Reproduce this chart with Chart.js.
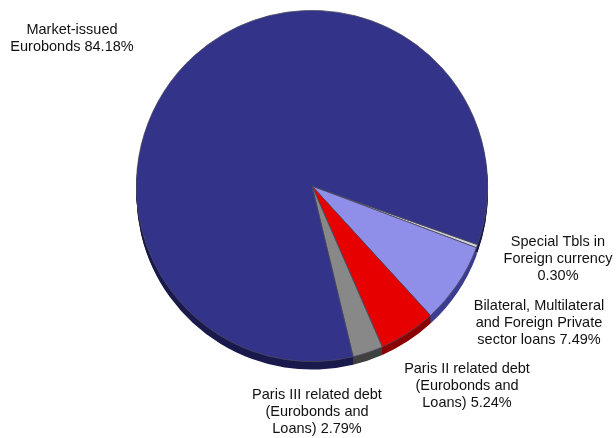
<!DOCTYPE html>
<html>
<head>
<meta charset="utf-8">
<script src="https://cdn.jsdelivr.net/npm/chart.js@4/dist/chart.umd.min.js"></script>
<style>
  html, body { margin: 0; padding: 0; background: #ffffff; }
  #wrap { width: 616px; height: 438px; position: relative; }
</style>
</head>
<body>
<div id="wrap"><canvas id="c" width="616" height="438"></canvas></div>
<script>
// ---- data ----
const categories = [
  'Special Tbls in Foreign currency',
  'Bilateral, Multilateral and Foreign Private sector loans',
  'Paris II related debt (Eurobonds and Loans)',
  'Paris III related debt (Eurobonds and Loans)',
  'Market-issued Eurobonds'
];
const shares = [0.30, 7.49, 5.24, 2.79, 84.18];
const labelLines = [
  ['Special Tbls in', 'Foreign currency', '{v}'],
  ['Bilateral, Multilateral', 'and Foreign Private', 'sector loans {v}'],
  ['Paris II related debt', '(Eurobonds and', 'Loans) {v}'],
  ['Paris III related debt', '(Eurobonds and', 'Loans) {v}'],
  ['Market-issued', 'Eurobonds {v}']
];

// ---- styles / layout ----
const sliceColors = ['#cfcfd6', '#8f8fea', '#e60000', '#888888', '#333389'];
const sideColors  = ['#7a7a80', '#3c3c90', '#8a0000', '#404040', '#1a1a4d'];
const labelPos = [
  { x: 558, y: 242 },
  { x: 539, y: 306 },
  { x: 467, y: 369 },
  { x: 317, y: 395 },
  { x: 72,  y: 30 }
];
const lineHeight = 17;
const depth = 8;

const sidePlugin = {
  id: 'side3d',
  beforeDatasetsDraw(chart) {
    const ctx = chart.ctx;
    const meta = chart.getDatasetMeta(0);
    meta.data.forEach((arc, i) => {
      const p = arc.getProps(['x', 'y', 'startAngle', 'endAngle', 'outerRadius'], true);
      for (let d = depth; d >= 1; d--) {
        ctx.save();
        ctx.beginPath();
        ctx.moveTo(p.x, p.y + d);
        ctx.arc(p.x, p.y + d, p.outerRadius, p.startAngle, p.endAngle);
        ctx.closePath();
        ctx.fillStyle = sideColors[i];
        ctx.fill();
        ctx.restore();
      }
    });
  }
};

const labelPlugin = {
  id: 'sliceLabels',
  afterDraw(chart) {
    const ctx = chart.ctx;
    ctx.save();
    ctx.font = '14.5px "Liberation Sans", Arial, sans-serif';
    ctx.fillStyle = '#111111';
    ctx.textAlign = 'center';
    ctx.textBaseline = 'middle';
    labelLines.forEach((lines, i) => {
      const v = shares[i].toFixed(2) + '%';
      lines.forEach((ln, k) => {
        ctx.fillText(ln.replace('{v}', v), labelPos[i].x, labelPos[i].y + k * lineHeight);
      });
    });
    ctx.restore();
  }
};

new Chart(document.getElementById('c'), {
  type: 'pie',
  data: {
    labels: categories,
    datasets: [{
      data: shares,
      backgroundColor: sliceColors,
      borderColor: '#4a4a60',
      borderWidth: 0.8
    }]
  },
  options: {
    responsive: false,
    animation: false,
    rotation: 109.5,
    layout: { padding: { left: 136, right: 128, top: 9, bottom: 75 } },
    plugins: {
      legend: { display: false },
      tooltip: { enabled: false },
      title: { display: false }
    }
  },
  plugins: [sidePlugin, labelPlugin]
});
</script>
</body>
</html>
